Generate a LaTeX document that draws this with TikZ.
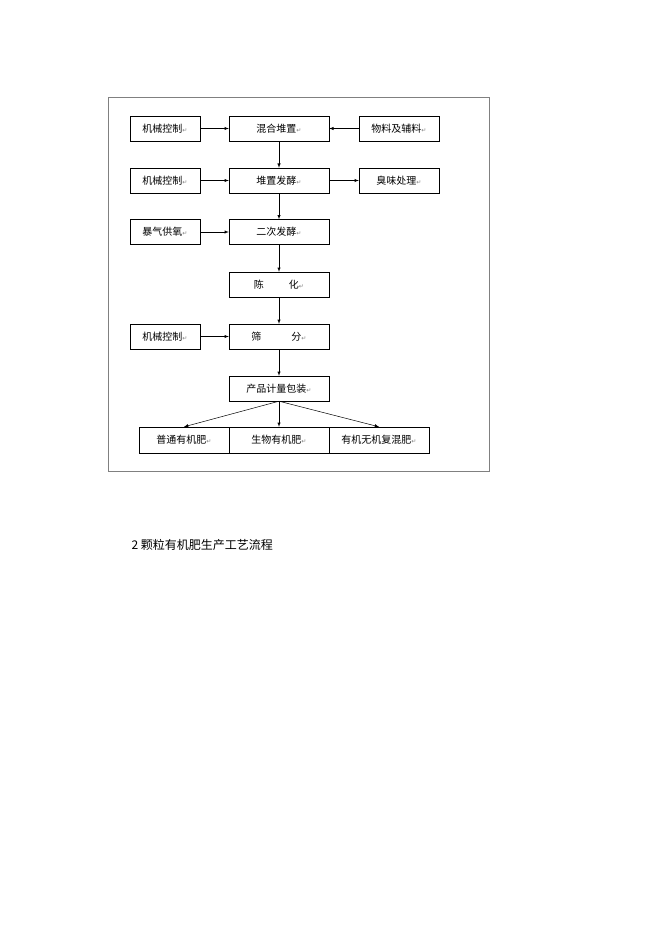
\documentclass[tikz,border=0pt]{standalone}
\usepackage{fontspec}
\newfontfamily\cjk{Noto Sans CJK SC}
\newfontfamily\retfont{DejaVu Sans}
\usetikzlibrary{arrows}
\newcommand{\rt}{{\retfont\fontsize{6}{6}\selectfont\color{gray}↵}}
\begin{document}
\begin{tikzpicture}[x=1pt,y=-1pt,font=\cjk\fontsize{10}{12}\selectfont,
  box/.style={draw,rectangle,minimum width=70pt,minimum height=25pt,inner sep=0pt},
  wbox/.style={draw,rectangle,minimum width=100pt,minimum height=25pt,inner sep=0pt},
  arr/.style={-latex,line width=0.5pt}]
\useasboundingbox (0,0) rectangle (662,936);
\draw[gray] (108,97) rectangle (489,471);

  \node[box] (l1) at (165,128.5) {机械控制\rt};
  \node[box] (l2) at (165,180.5) {机械控制\rt};
  \node[box] (l3) at (165,232) {暴气供氧\rt};
  \node[box] (l5) at (165,336.5) {机械控制\rt};

  \node[wbox] (c1) at (279,128.5) {混合堆置\rt};
  \node[wbox] (c2) at (279,180.5) {堆置发酵\rt};
  \node[wbox] (c3) at (279,232) {二次发酵\rt};
  \node[wbox] (c4) at (279,284.5) {陈\hspace{2.5em}化\rt};
  \node[wbox] (c5) at (279,336.5) {筛\hspace{3em}分\rt};
  \node[wbox] (c6) at (279,388.5) {产品计量包装\rt};

  \node[box,minimum width=80pt] (r1) at (399,128.5) {物料及辅料\rt};
  \node[box,minimum width=80pt] (r2) at (399,180.5) {臭味处理\rt};

  \node[draw,minimum width=90pt,minimum height=26pt,inner sep=0pt] (p1) at (184,440) {普通有机肥\rt};
  \node[wbox,minimum height=26pt] (p2) at (279,440) {生物有机肥\rt};
  \node[wbox,minimum height=26pt] (p3) at (379,440) {有机无机复混肥\rt};

    \draw[arr] (l1) -- (c1);
    \draw[arr] (r1) -- (c1);
    \draw[arr] (l2) -- (c2);
    \draw[arr] (c2) -- (r2);
    \draw[arr] (l3) -- (c3);
    \draw[arr] (l5) -- (c5);
    \draw[arr] (c1) -- (c2);
    \draw[arr] (c2) -- (c3);
    \draw[arr] (c3) -- (c4);
    \draw[arr] (c4) -- (c5);
    \draw[arr] (c5) -- (c6);
    \draw[arr] (c6.south) -- (p1.north);
    \draw[arr] (c6.south) -- (p2.north);
    \draw[arr] (c6.south) -- (p3.north);

  \node[anchor=west,font=\cjk\fontsize{12}{14}\selectfont] (cap) at (128,545) {2\ 颗粒有机肥生产工艺流程};
\end{tikzpicture}
\end{document}
